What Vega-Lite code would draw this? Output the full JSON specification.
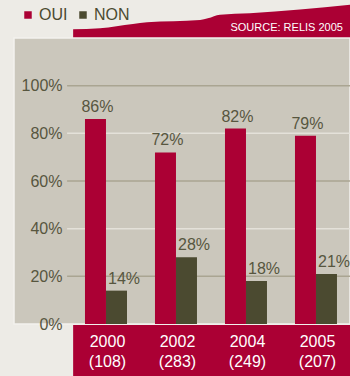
{
  "$schema": "https://vega.github.io/schema/vega-lite/v6.json",
  "width": 336,
  "height": 286,
  "autosize": {"type": "none"},
  "padding": {"left": 14, "top": 38, "right": 0, "bottom": 52},
  "background": "#edebe6",
  "config": {
    "view": {"fill": "#cbc7bc", "stroke": "#f3f2ee", "strokeWidth": 1.5},
    "font": "Liberation Sans",
    "axisY": {
      "title": null,
      "grid": false,
      "ticks": false,
      "domain": false,
      "tickCount": 6,
      "labelPadding": -48,
      "labelAlign": "right",
      "labelFontSize": 16,
      "labelColor": "#57563f",
      "labelFont": "Liberation Sans",
      "labelExpr": "datum.value > 100 ? '' : datum.value + '%'"
    }
  },
  "datasets": {
    "sondage": [
      {"annee": "2000", "n": "(108)", "serie": "OUI", "pct": 86},
      {"annee": "2000", "n": "(108)", "serie": "NON", "pct": 14},
      {"annee": "2002", "n": "(283)", "serie": "OUI", "pct": 72},
      {"annee": "2002", "n": "(283)", "serie": "NON", "pct": 28},
      {"annee": "2004", "n": "(249)", "serie": "OUI", "pct": 82},
      {"annee": "2004", "n": "(249)", "serie": "NON", "pct": 18},
      {"annee": "2005", "n": "(207)", "serie": "OUI", "pct": 79},
      {"annee": "2005", "n": "(207)", "serie": "NON", "pct": 21}
    ],
    "grille": [{"v": 20}, {"v": 40}, {"v": 60}, {"v": 80}, {"v": 100}],
    "bandeau": [
      {"f": 0.176, "h": 123.7},
      {"f": 0.256, "h": 124.1},
      {"f": 0.354, "h": 125.9},
      {"f": 0.396, "h": 126.6},
      {"f": 0.554, "h": 127.6},
      {"f": 0.577, "h": 128.3},
      {"f": 0.613, "h": 129.8},
      {"f": 0.702, "h": 130.4},
      {"f": 1.0, "h": 133.9}
    ],
    "source": [{"texte": "SOURCE: RELIS 2005"}]
  },
  "resolve": {"scale": {"x": "independent"}},
  "layer": [
    {
      "data": {"name": "grille"},
      "mark": {"type": "rule", "strokeWidth": 1.5},
      "encoding": {
        "x": {"datum": 0.158, "type": "quantitative", "scale": {"domain": [0, 1]}, "axis": null},
        "x2": {"datum": 1},
        "y": {"field": "v", "type": "quantitative", "title": null},
        "color": {
          "condition": {"test": "datum.v % 40 == 20", "value": "#aaa592"},
          "value": "#e4e1d9"
        }
      }
    },
    {
      "data": {"name": "source"},
      "mark": {"type": "rect", "color": "#ab0034"},
      "encoding": {
        "x": {"datum": 0.176, "type": "quantitative", "scale": {"domain": [0, 1]}, "axis": null},
        "x2": {"datum": 1},
        "y": {"datum": -0.4, "type": "quantitative"},
        "y2": {"datum": -22}
      }
    },
    {
      "data": {"name": "sondage"},
      "transform": [{"calculate": "datum.pct + '%'", "as": "etiquette"}],
      "layer": [
        {
          "mark": {"type": "bar"},
          "encoding": {
            "x": {
              "field": "annee",
              "type": "nominal",
              "sort": ["2000", "2002", "2004", "2005"],
              "scale": {"paddingInner": 0.4, "paddingOuter": 0.6, "align": 0.845},
              "axis": null
            },
            "xOffset": {
              "field": "serie",
              "type": "nominal",
              "sort": ["OUI", "NON"],
              "scale": {"paddingInner": 0, "paddingOuter": 0}
            },
            "y": {
              "field": "pct",
              "type": "quantitative",
              "title": null,
              "scale": {"domain": [0, 120], "nice": false}
            },
            "color": {
              "field": "serie",
              "type": "nominal",
              "sort": ["OUI", "NON"],
              "scale": {"domain": ["OUI", "NON"], "range": ["#ab0034", "#4b4a30"]},
              "legend": {
                "orient": "none",
                "legendX": 6,
                "legendY": -31,
                "direction": "horizontal",
                "title": null,
                "symbolType": "square",
                "symbolSize": 56,
                "symbolStrokeWidth": 0,
                "labelFontSize": 16,
                "labelColor": "#4b4a30",
                "labelFont": "Liberation Sans",
                "padding": 0,
                "columnPadding": 7,
                "labelOffset": 3
              }
            }
          }
        },
        {
          "transform": [{"filter": "datum.serie == 'OUI'"}],
          "mark": {"type": "text", "align": "center", "baseline": "middle", "dx": 2, "dy": -12, "fontSize": 16, "color": "#57563f"},
          "encoding": {
            "x": {"field": "annee", "type": "nominal", "sort": ["2000", "2002", "2004", "2005"], "axis": null},
            "xOffset": {"field": "serie", "type": "nominal", "sort": ["OUI", "NON"]},
            "y": {"field": "pct", "type": "quantitative", "title": null},
            "text": {"field": "etiquette", "type": "nominal"}
          }
        },
        {
          "transform": [{"filter": "datum.serie == 'NON'"}],
          "mark": {"type": "text", "align": "left", "baseline": "middle", "dx": -8.5, "dy": -12, "fontSize": 16, "color": "#57563f"},
          "encoding": {
            "x": {"field": "annee", "type": "nominal", "sort": ["2000", "2002", "2004", "2005"], "axis": null},
            "xOffset": {"field": "serie", "type": "nominal", "sort": ["OUI", "NON"]},
            "y": {"field": "pct", "type": "quantitative", "title": null},
            "text": {"field": "etiquette", "type": "nominal"}
          }
        },
        {
          "transform": [{"filter": "datum.serie == 'OUI'"}],
          "mark": {"type": "text", "align": "center", "baseline": "middle", "dx": 1.5, "fontSize": 16, "color": "white"},
          "encoding": {
            "x": {"field": "annee", "type": "nominal", "sort": ["2000", "2002", "2004", "2005"], "axis": null},
            "y": {"datum": -7.5, "type": "quantitative"},
            "text": {"field": "annee", "type": "nominal"}
          }
        },
        {
          "transform": [{"filter": "datum.serie == 'OUI'"}],
          "mark": {"type": "text", "align": "center", "baseline": "middle", "dx": 1.5, "fontSize": 16, "color": "white"},
          "encoding": {
            "x": {"field": "annee", "type": "nominal", "sort": ["2000", "2002", "2004", "2005"], "axis": null},
            "y": {"datum": -16, "type": "quantitative"},
            "text": {"field": "n", "type": "nominal"}
          }
        }
      ]
    },
    {
      "data": {"name": "bandeau"},
      "mark": {"type": "area", "color": "#ab0034", "interpolate": "monotone"},
      "encoding": {
        "x": {"field": "f", "type": "quantitative", "scale": {"domain": [0, 1]}, "axis": null},
        "y": {"field": "h", "type": "quantitative"},
        "y2": {"datum": 120.3}
      }
    },
    {
      "data": {"name": "source"},
      "mark": {"type": "text", "align": "right", "baseline": "middle", "fontSize": 11, "color": "white", "font": "Liberation Sans"},
      "encoding": {
        "x": {"datum": 0.979, "type": "quantitative", "scale": {"domain": [0, 1]}, "axis": null},
        "y": {"datum": 124, "type": "quantitative"},
        "text": {"field": "texte", "type": "nominal"}
      }
    }
  ]
}
